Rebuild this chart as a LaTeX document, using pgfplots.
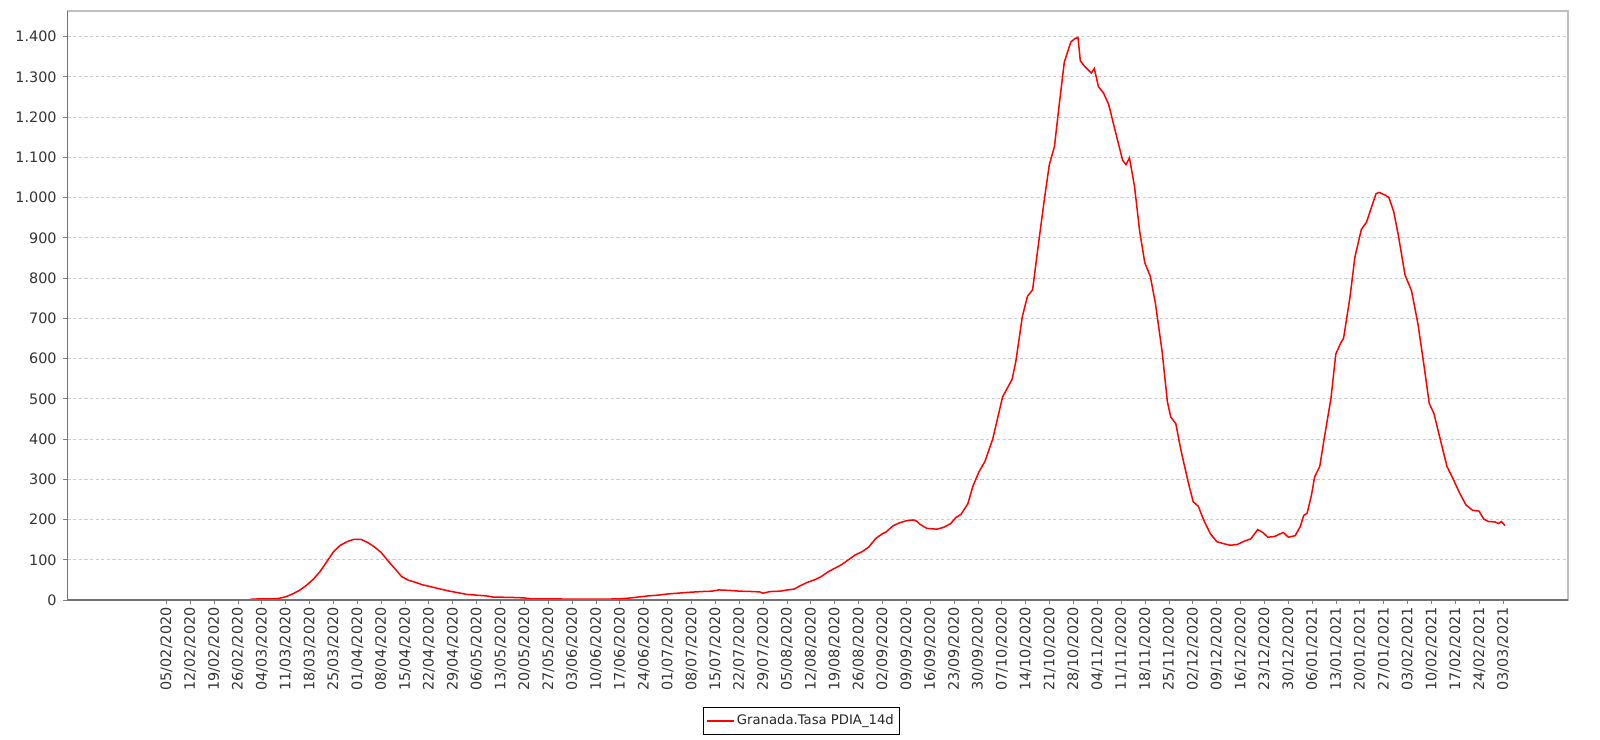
\documentclass[border=0pt]{standalone}
\usepackage{fontspec}
\setmainfont{DejaVu Sans}
\usepackage{pgfplots}
\usepackage{pgfplotstable}
\pgfplotsset{compat=1.18}

\pgfplotstableread{
day val
-4 0
0 0
10 0
20 0
24 0
25 2
28 3
31 3
33 4
35 8
37 15
39 24
41 36
43 51
45 70
47 95
49 120
51 136
53 145
55 151
57 151
59 143
61 132
63 118
65 97
67 78
69 58
71 49
73 44
75 38
77 34
79 30
81 26
83 22
85 19
88 14
91 12
94 10
96 7
98 7
103 6
105 5
107 3
112 3
120 2
128 2
133 3
136 5
139 8
141 10
144 12
147 15
150 17
153 19
157 21
160 22
162 25
165 24
168 22
172 21
174 20
175 17
177 21
180 22
182 25
184 27
186 36
188 44
190 50
192 58
194 70
196 79
198 88
200 100
202 112
204 120
206 132
208 153
210 165
211 169
213 184
215 192
217 197
219 199
220 196
221 188
223 178
226 176
228 181
230 190
231.5 205
233 213
235 239
236.5 283
238.3 319
240 344
242.3 400
245.2 505
247 533
248 549
249.1 594
251 705
252.5 755
254 771
255.5 871
257.4 993
258.9 1082
260.4 1127
261.9 1238
263.3 1337
265.2 1387
266.5 1396
267.3 1398
268 1340
269.3 1326
271.2 1310
272.1 1321
273.3 1276
274.8 1260
276.3 1232
278.4 1160
280.4 1093
281.4 1082
282.4 1099
283.9 1027
285.4 916
286.9 838
288.5 805
290 738
292 616
293.5 494
294.5 455
296 438
297.5 372
299.6 294
301.1 244
302.6 233
304.1 200
306.1 165
308 145
310 140
312 136
314 138
316 146
318 152
320 175
321.5 168
323 156
325 158
327.5 168
329 156
331 160
332.5 183
333.5 210
334.5 216
335.8 262
336.7 306
338.2 332
339.6 406
341.5 502
342.9 611
344.3 638
345.2 651
347.1 755
348.5 852
350.4 921
351.9 939
353.3 974
354.7 1010
355.6 1013
357.5 1006
358.5 1000
359.9 965
361.3 904
363.2 808
365.1 769
367 686
368.8 581
370.3 489
371.7 463
373.6 397
375.5 332
377.3 301
379.2 266
381.1 236
383 223
384.9 221
386.3 201
387.7 195
389.6 194
390.6 190
391.5 195
392.5 185
}\granada

\begin{document}
\begin{tikzpicture}
\begin{axis}[
  name=ax,
  scale only axis,
  width=750.25pt, height=294.5pt,
  xmin=-29, xmax=411, ymin=0, ymax=1464,
  axis line style={draw=gray!50, line width=0.6pt},
  xtick={0,7,...,392},
  xticklabels={05/02/2020,12/02/2020,19/02/2020,26/02/2020,04/03/2020,11/03/2020,18/03/2020,25/03/2020,01/04/2020,08/04/2020,15/04/2020,22/04/2020,29/04/2020,06/05/2020,13/05/2020,20/05/2020,27/05/2020,03/06/2020,10/06/2020,17/06/2020,24/06/2020,01/07/2020,08/07/2020,15/07/2020,22/07/2020,29/07/2020,05/08/2020,12/08/2020,19/08/2020,26/08/2020,02/09/2020,09/09/2020,16/09/2020,23/09/2020,30/09/2020,07/10/2020,14/10/2020,21/10/2020,28/10/2020,04/11/2020,11/11/2020,18/11/2020,25/11/2020,02/12/2020,09/12/2020,16/12/2020,23/12/2020,30/12/2020,06/01/2021,13/01/2021,20/01/2021,27/01/2021,03/02/2021,10/02/2021,17/02/2021,24/02/2021,03/03/2021},
  ytick={0,100,...,1400},
  xtick pos=bottom, ytick pos=left,
  tick align=outside,
  major tick length=2pt,
  tick style={gray, line width=0.5pt},
  ymajorgrids,
  major grid style={gray!40, dash pattern=on 1.6pt off 1.2pt, line width=0.5pt},
  ticklabel style={font=\fontsize{7.2}{8}\selectfont, text=black!80},
  xticklabel style={yshift=-1.5pt, rotate=90, anchor=east, inner sep=0pt},
  yticklabel style={anchor=east, inner sep=0pt, xshift=-3.25pt,
    /pgf/number format/1000 sep={.}, /pgf/number format/assume math mode=true},
  legend style={at={(0.4889,-0.2054)}, anchor=center, draw=black, line width=0.5pt,
    font=\fontsize{6.6}{8}\selectfont, text=black!85,
    inner xsep=1.5pt, inner ysep=2.5pt, nodes={inner sep=1.2pt}},
  legend image code/.code={\draw[#1] (0pt,0pt) -- (13.5pt,0pt);},
]
\addplot[red, line width=0.75pt] table[x=day, y=val] {\granada};
\addlegendentry{Granada.Tasa PDIA\_14d}
\end{axis}
\draw[gray!90!black, line width=0.9pt] (ax.north west) -- (ax.south west) -- (ax.south east);
\pgfresetboundingbox
\path[use as bounding box] ([xshift=-33.75pt,yshift=-69.5pt]ax.south west) rectangle ([xshift=16pt,yshift=5.5pt]ax.north east);
\end{tikzpicture}
\end{document}
